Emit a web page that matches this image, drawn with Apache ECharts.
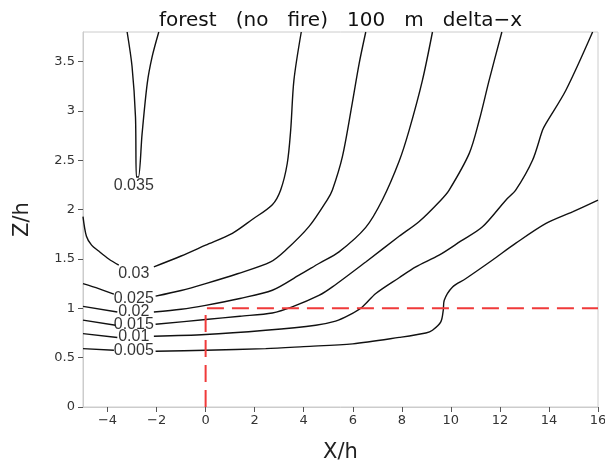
<!DOCTYPE html>
<html>
<head>
<meta charset="utf-8">
<script src="https://cdn.jsdelivr.net/npm/echarts@6/dist/echarts.min.js"></script>
<style>
html, body { margin: 0; padding: 0; background: #fff; }
#main { width: 605px; height: 463px; }
</style>
</head>
<body>
<div id="main"></div>
<script>
// contour lines, [x/h, z/h]; null = gap where the label sits
var c035 = [[-3.2, 3.8], [-3.0, 3.45], [-2.86, 2.94], [-2.82, 2.33], [-2.74, 2.33], [-2.59, 2.77], [-2.38, 3.28], [-2.18, 3.55], [-1.91, 3.8]];
var c030 = [[-5, 1.93], [-4.86, 1.73], [-4.65, 1.64], [-4.36, 1.58], [-3.95, 1.5], [-3.54, 1.437], null, [-2.11, 1.42], [-1.0, 1.53], [0, 1.64], [1.09, 1.76], [1.9, 1.9], [2.72, 2.05], [3.06, 2.2], [3.33, 2.47], [3.47, 2.81], [3.6, 3.31], [3.9, 3.8]];
var c025 = [[-5, 1.25], [-4.36, 1.2], [-3.74, 1.143], null, [-2.04, 1.123], [-1, 1.18], [0, 1.25], [1.3, 1.35], [2.65, 1.47], [3.27, 1.59], [4.22, 1.83], [4.96, 2.1], [5.17, 2.2], [5.58, 2.54], [5.98, 3.08], [6.26, 3.48], [6.53, 3.8]];
var c020 = [[-5, 1.02], [-3.6, 0.963], null, [-2.11, 0.963], [-1, 0.99], [0, 1.03], [1.4, 1.1], [2.72, 1.183], [3.81, 1.336], [4.62, 1.454], [5.44, 1.572], [6.53, 1.82], [7.21, 2.1], [7.89, 2.49], [8.3, 2.806], [8.84, 3.31], [9.25, 3.8]];
var c015 = [[-5, 0.88], [-3.67, 0.829], null, [-2.04, 0.839], [0, 0.886], [1.4, 0.92], [2.72, 0.953], [3.53, 1.014], [4.62, 1.13], [5.17, 1.217], [6.53, 1.47], [7.89, 1.73], [8.71, 1.88], [9.59, 2.096], [9.93, 2.198], [10.75, 2.57], [11.16, 2.908], [11.56, 3.31], [12.08, 3.8]];
var c010 = [[-5, 0.744], [-3.6, 0.704], null, [-2.11, 0.717], [0, 0.734], [2.45, 0.778], [4.49, 0.829], [5.3, 0.87], [5.85, 0.93], [6.39, 1.014], [6.94, 1.15], [7.89, 1.31], [8.57, 1.42], [9.52, 1.539], [10.4, 1.68], [11.29, 1.826], [12.24, 2.096], [12.65, 2.2], [13.33, 2.5], [13.74, 2.806], [13.88, 2.874], [14.69, 3.21], [15.78, 3.8]];
var c005 = [[-5, 0.592], [-3.74, 0.575], null, [-2.04, 0.565], [0, 0.575], [2.45, 0.592], [4, 0.612], [6, 0.64], [7.89, 0.705], [8.98, 0.75], [9.25, 0.778], [9.59, 0.862], [9.69, 0.98], [9.73, 1.082], [10.07, 1.217], [10.6, 1.3], [11.7, 1.49], [12.65, 1.66], [13.88, 1.86], [14.96, 1.978], [16, 2.096]];

var contours = [c035, c030, c025, c020, c015, c010, c005];
var labelText = ['0.035', '0.03', '0.025', '0.02', '0.015', '0.01', '0.005'];
var labelX = [-2.93, -2.93, -2.93, -2.93, -2.93, -2.93, -2.93];
var labelY = [2.245, 1.353, 1.10, 0.963, 0.839, 0.717, 0.575];

// forest edge (red dashed)
var forestX = [0, 0, 16];
var forestY = [0, 1, 1];

var xTicks = [-4, -2, 0, 2, 4, 6, 8, 10, 12, 14, 16];
var yTicks = [0, 0.5, 1, 1.5, 2, 2.5, 3, 3.5];

var chart = echarts.init(document.getElementById('main'));

var series = [];
contours.forEach(function (c) {
    var seg = [];
    c.forEach(function (p) {
        if (p === null) {
            series.push(seg);
            seg = [];
        } else {
            seg.push(p);
        }
    });
    series.push(seg);
});
series = series.map(function (seg) {
    return {
        type: 'line',
        data: seg,
        smooth: 0.3,
        symbol: 'none',
        silent: true,
        lineStyle: { color: '#111', width: 1.4 }
    };
});

series.push({
    type: 'line',
    data: forestX.map(function (x, i) { return [x, forestY[i]]; }),
    symbol: 'none',
    silent: true,
    z: 3,
    lineStyle: { color: '#f03a3a', width: 2, type: [17, 8] }
});

series.push({
    type: 'scatter',
    symbolSize: 0,
    silent: true,
    data: labelText.map(function (t, i) { return [labelX[i], labelY[i], t]; }),
    label: {
        show: true,
        position: 'inside',
        formatter: function (p) { return p.data[2]; },
        color: '#000',
        fontFamily: 'Liberation Sans',
        fontSize: 16
    }
});

var minus = function (v) { return String(v).replace('-', '\u2212'); };

var option = {
    animation: false,
    title: {
        text: 'forest   (no   fire)   100   m   delta\u2212x',
        left: 154,
        top: 6,
        textStyle: { fontFamily: 'DejaVu Sans', fontWeight: 'normal', fontSize: 20, color: '#111' }
    },
    grid: {
        left: 83,
        right: 7,
        top: 32,
        bottom: 56,
        outerBoundsMode: 'none',
        containLabel: false,
        show: true,
        borderColor: '#cccccc',
        borderWidth: 1
    },
    xAxis: {
        type: 'value',
        min: -5,
        max: 16,
        name: 'X/h',
        nameLocation: 'middle',
        nameGap: 35,
        nameTextStyle: { fontFamily: 'DejaVu Sans', fontSize: 21, color: '#222' },
        axisLine: { onZero: false, lineStyle: { color: '#cccccc' } },
        axisTick: { customValues: xTicks, length: 5, lineStyle: { color: '#555' } },
        axisLabel: { customValues: xTicks, formatter: minus, color: '#333', fontFamily: 'DejaVu Sans', fontSize: 13, margin: 7 },
        splitLine: { show: false }
    },
    yAxis: {
        type: 'value',
        min: 0,
        max: 3.8,
        name: 'Z/h',
        nameLocation: 'middle',
        nameRotate: 90,
        nameGap: 50,
        nameTextStyle: { fontFamily: 'DejaVu Sans', fontSize: 21, color: '#222' },
        axisLine: { show: true, onZero: false, lineStyle: { color: '#cccccc' } },
        axisTick: { show: true, customValues: yTicks, length: 5, lineStyle: { color: '#555' } },
        axisLabel: { customValues: yTicks, color: '#333', fontFamily: 'DejaVu Sans', fontSize: 13, margin: 8 },
        splitLine: { show: false }
    },
    series: series
};

chart.setOption(option);

window.addEventListener('resize', function () {
    chart.resize();
});
</script>
</body>
</html>
